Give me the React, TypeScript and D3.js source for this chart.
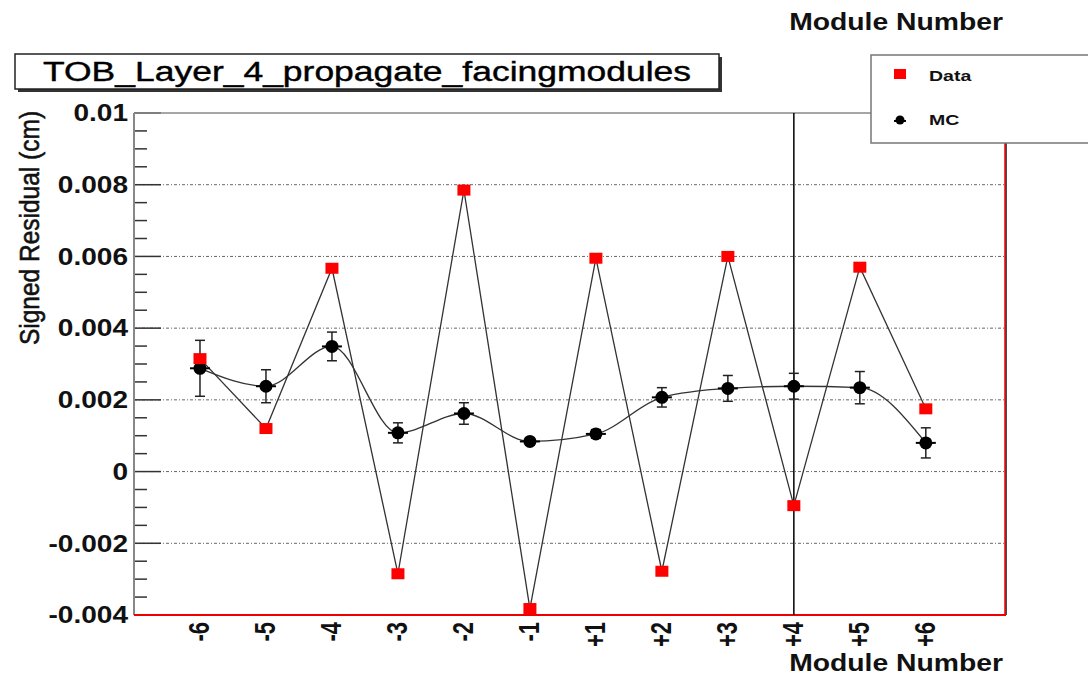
import React from "react";
import * as d3 from "d3";

const modules = ["-6", "-5", "-4", "-3", "-2", "-1", "+1", "+2", "+3", "+4", "+5", "+6"];
const dataValues = [0.00315, 0.0012, 0.00567, -0.00285, 0.00785, -0.00382, 0.00595, -0.00278, 0.006, -0.00095, 0.0057, 0.00175];
const mcValues = [0.00288, 0.00238, 0.00349, 0.00108, 0.00162, 0.00084, 0.00105, 0.00207, 0.00232, 0.00238, 0.00234, 0.0008];
const mcErrors = [0.00078, 0.00046, 0.0004, 0.00028, 0.0003, 0.0001, 0.00012, 0.00027, 0.00036, 0.00036, 0.00045, 0.00042];
const yTicks = [-0.004, -0.002, 0, 0.002, 0.004, 0.006, 0.008, 0.01];
const yTickLabels = ["-0.004", "-0.002", "0", "0.002", "0.004", "0.006", "0.008", "0.01"];
const titleText = "TOB_Layer_4_propagate_facingmodules";
const xTitle = "Module Number";
const yTitle = "Signed Residual (cm)";
const legendLabels = ["Data", "MC"];

export default function App() {
  const W = 1088, H = 676;
  const left = 134, right = 1005, top = 113, bottom = 615;
  const x = d3.scaleLinear().domain([0, 13.2]).range([left, right]);
  const y = d3.scaleLinear().domain([-0.004, 0.01]).range([bottom, top]);
  const minorTicks = d3.range(-0.004, 0.01 + 1e-9, 0.0005).filter(
    (v) => Math.abs(Math.round(v / 0.002) * 0.002 - v) > 1e-7
  );
  const dataLine = d3.line<number>().x((_, i) => x(i + 1)).y((d) => y(d))(dataValues) || "";
  const mcLine = d3
    .line<number>()
    .x((_, i) => x(i + 1))
    .y((d) => y(d))
    .curve(d3.curveMonotoneX)(mcValues) || "";
  const font = "'Liberation Sans', Arial, Helvetica, sans-serif";
  const vx = x(10);

  return (
    <svg width={W} height={H} style={{ position: "absolute", left: 0, top: 0, background: "#fff" }} fontFamily={font}>
      <rect x={0} y={0} width={W} height={H} fill="#fff" />
      {/* gridlines */}
      {yTicks.slice(1, -1).map((t) => (
        <line key={"g" + t} x1={left} x2={right} y1={y(t)} y2={y(t)} stroke="#666" strokeWidth={1} strokeDasharray="3,2,1,2" />
      ))}
      {/* minor ticks */}
      {minorTicks.map((t) => (
        <line key={"m" + t} x1={left} x2={left + 13} y1={y(t)} y2={y(t)} stroke="#333" strokeWidth={1.5} />
      ))}
      {yTicks.map((t) => (
        <line key={"M" + t} x1={left} x2={left + 27} y1={y(t)} y2={y(t)} stroke="#333" strokeWidth={1.5} />
      ))}
      {/* frame */}
      <line x1={left} x2={left} y1={top} y2={bottom} stroke="#888" strokeWidth={2} />
      <line x1={left} x2={right} y1={top} y2={top} stroke="#888" strokeWidth={1.5} />
      <line x1={right + 1} x2={right + 1} y1={143} y2={bottom} stroke="#111" strokeWidth={1.5} />
      <line x1={right} x2={right} y1={143} y2={bottom} stroke="#e00" strokeWidth={1.5} />
      <line x1={left} x2={right + 1} y1={bottom} y2={bottom} stroke="#e00" strokeWidth={2} />
      {/* vertical line at +4 */}
      <line x1={vx} x2={vx} y1={top} y2={bottom} stroke="#000" strokeWidth={1.5} />
      {/* y tick labels */}
      {yTicks.map((t, i) => (
        <g key={"yl" + t} transform={`translate(${left - 6},${y(t)}) scale(1.22,1)`}>
          <text x={0} y={0} dy="0.36em" textAnchor="end" fontSize={23} fontWeight="bold" fill="#111">
            {yTickLabels[i]}
          </text>
        </g>
      ))}
      {/* x tick labels */}
      {modules.map((m, i) => (
        <g key={"xl" + m} transform={`translate(${x(i + 1) + 9},${bottom + 7}) scale(1.3,1) rotate(-90)`}>
          <text x={0} y={0} textAnchor="end" fontSize={22} fontWeight="bold" fill="#111">
            {m}
          </text>
        </g>
      ))}
      {/* lines */}
      <path d={dataLine} fill="none" stroke="#333" strokeWidth={1.3} />
      <path d={mcLine} fill="none" stroke="#333" strokeWidth={1.3} />
      {/* MC error bars and markers */}
      {mcValues.map((v, i) => {
        const cx = x(i + 1);
        const e = mcErrors[i];
        return (
          <g key={"mc" + i}>
            <line x1={cx} x2={cx} y1={y(v + e)} y2={y(v - e)} stroke="#222" strokeWidth={1.5} />
            <line x1={cx - 5} x2={cx + 5} y1={y(v + e)} y2={y(v + e)} stroke="#222" strokeWidth={1.5} />
            <line x1={cx - 5} x2={cx + 5} y1={y(v - e)} y2={y(v - e)} stroke="#222" strokeWidth={1.5} />
            <line x1={cx - 10} x2={cx + 10} y1={y(v)} y2={y(v)} stroke="#000" strokeWidth={2} />
            <circle cx={cx} cy={y(v)} r={6.5} fill="#000" />
          </g>
        );
      })}
      {/* Data markers */}
      {dataValues.map((v, i) => (
        <rect key={"d" + i} x={x(i + 1) - 6.5} y={y(v) - 5.5} width={13} height={11} fill="#f00" />
      ))}
      {/* title box */}
      <rect x={18} y={57} width={704} height={35} fill="#333" />
      <rect x={15} y={54} width={704} height={35} fill="#fff" stroke="#222" strokeWidth={1.5} />
      <text x={367} y={71.5} dy="0.36em" textAnchor="middle" fontSize={27} fill="#000" stroke="#000" strokeWidth={0.4} textLength={648} lengthAdjust="spacingAndGlyphs">
        {titleText}
      </text>
      {/* legend */}
      <rect x={871} y={55} width={230} height={88} fill="#fff" stroke="#777" strokeWidth={1.5} />
      <rect x={894} y={69} width={12} height={10} fill="#f00" />
      <g transform="translate(929,76) scale(1.3,1)">
        <text x={0} y={0} dy="0.35em" fontSize={15} fontWeight="bold" fill="#111">{legendLabels[0]}</text>
      </g>
      <circle cx={900} cy={120} r={4.5} fill="#000" />
      <line x1={894} x2={906} y1={121} y2={121} stroke="#000" strokeWidth={2} />
      <g transform="translate(929,120) scale(1.3,1)">
        <text x={0} y={0} dy="0.35em" fontSize={15} fontWeight="bold" fill="#111">{legendLabels[1]}</text>
      </g>
      {/* axis titles */}
      <g transform="translate(1003,30) scale(1.18,1)">
        <text x={0} y={0} textAnchor="end" fontSize={24} fontWeight="bold" fill="#111">{xTitle}</text>
      </g>
      <g transform="translate(1003,671) scale(1.18,1)">
        <text x={0} y={0} textAnchor="end" fontSize={24} fontWeight="bold" fill="#111">{xTitle}</text>
      </g>
      <g transform={`translate(39,228) scale(1.15,1) rotate(-90)`}>
        <text x={0} y={0} textAnchor="middle" fontSize={24.5} fill="#111" stroke="#111" strokeWidth={0.5}>{yTitle}</text>
      </g>
    </svg>
  );
}
